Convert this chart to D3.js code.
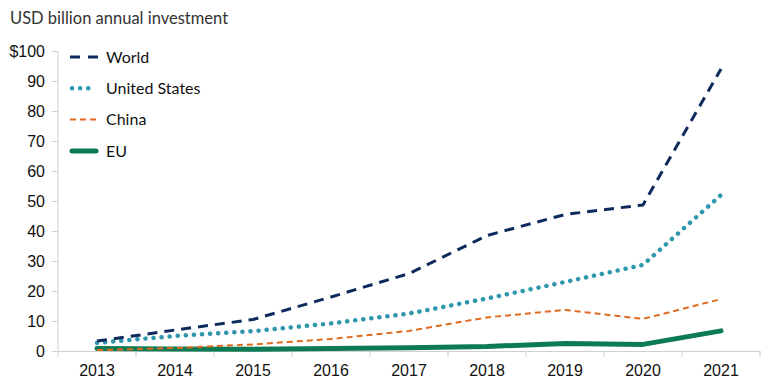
<!DOCTYPE html>
<html>
<head>
<meta charset="utf-8">
<script src="https://cdn.jsdelivr.net/npm/d3@7"></script>
<style>
  body { margin: 0; background: #fff; }
  svg { font-family: Lato, "Open Sans", sans-serif; }
</style>
</head>
<body>
<script>
var w = 770;
var h = 391;

// years and annual investment, USD billion
var years = ["2013", "2014", "2015", "2016", "2017", "2018", "2019", "2020", "2021"];
var world = [3.3, 7, 10.5, 18, 25.8, 38.5, 45.5, 48.7, 94];
var unitedStates = [2.7, 5, 6.6, 9.2, 12.5, 17.5, 23, 28.7, 52];
var china = [0.3, 1, 2.2, 4, 6.7, 11.2, 13.7, 10.7, 17.3];
var eu = [0.8, 0.7, 0.6, 0.8, 1.1, 1.5, 2.5, 2.2, 6.7];
var yTicks = [0, 10, 20, 30, 40, 50, 60, 70, 80, 90, 100];

var series = [
  { name: "World", values: world, color: "#0c2a5c", width: 3, dash: "10,7", cap: "butt" },
  { name: "United States", values: unitedStates, color: "#2e97ad", width: 4.5, dash: "0.1,8", cap: "round" },
  { name: "China", values: china, color: "#df6c1e", width: 2, dash: "6,4", cap: "butt" },
  { name: "EU", values: eu, color: "#0b7a55", width: 5, dash: null, cap: "round" }
];

var margin = { left: 58, right: 10, top: 51, bottom: 40 };

var svg = d3.select("body")
  .append("svg")
  .attr("width", w)
  .attr("height", h);

var x = d3.scaleBand()
  .domain(years)
  .range([margin.left, 760]);

var y = d3.scaleLinear()
  .domain([0, 100])
  .range([351, 51]);

svg.append("text")
  .attr("x", 10)
  .attr("y", 24)
  .attr("fill", "#333")
  .style("font-size", "16.5px")
  .text("USD billion annual investment");

// y axis
var yAxis = svg.append("g")
  .attr("transform", "translate(" + margin.left + ",0)")
  .call(d3.axisLeft(y).tickValues(yTicks).tickSize(6).tickPadding(7)
    .tickFormat(function(d) { return d == 100 ? "$100" : d; }));

// x axis
var xAxis = svg.append("g")
  .attr("transform", "translate(0,351)")
  .call(d3.axisBottom(x).tickSize(0).tickPadding(14));

// band boundary ticks below the x axis
xAxis.selectAll(".bound")
  .data(years.concat(["end"]))
  .enter()
  .append("line")
  .attr("class", "bound")
  .attr("x1", function(d, i) { return margin.left + i * x.step(); })
  .attr("x2", function(d, i) { return margin.left + i * x.step(); })
  .attr("y1", 0)
  .attr("y2", 6)
  .attr("stroke", "#d0d0d0");

[yAxis, xAxis].forEach(function(a) {
  a.select(".domain").attr("stroke", "#d0d0d0");
  a.selectAll(".tick line").attr("stroke", "#d0d0d0");
  a.selectAll("text").attr("fill", "#111").style("font-size", "16px");
});
yAxis.select(".domain").attr("d", "M0,351V51");

var line = d3.line()
  .x(function(d, i) { return x(years[i]) + x.bandwidth() / 2; })
  .y(function(d) { return y(d); });

svg.append("g")
  .selectAll("path")
  .data(series.slice().reverse())
  .enter()
  .append("path")
  .attr("d", function(d) { return line(d.values); })
  .attr("fill", "none")
  .attr("stroke", function(d) { return d.color; })
  .attr("stroke-width", function(d) { return d.width; })
  .attr("stroke-dasharray", function(d) { return d.dash; })
  .attr("stroke-linecap", function(d) { return d.cap; })
  .attr("stroke-linejoin", "round");

// legend
var legend = svg.append("g")
  .selectAll("g")
  .data(series)
  .enter()
  .append("g")
  .attr("transform", function(d, i) { return "translate(70," + (57 + i * 31.3) + ")"; });

legend.append("line")
  .attr("x1", function(d) { return d.cap == "round" ? 2 : 0; })
  .attr("x2", function(d) { return d.cap == "round" ? 26 : 28; })
  .attr("stroke", function(d) { return d.color; })
  .attr("stroke-width", function(d) { return d.width; })
  .attr("stroke-dasharray", function(d) { return d.name == "World" ? "10,8" : d.name == "China" ? "6,4" : d.dash; })
  .attr("stroke-linecap", function(d) { return d.cap; });

legend.append("text")
  .attr("x", 36)
  .attr("dy", "0.36em")
  .attr("fill", "#111")
  .style("font-size", "16px")
  .text(function(d) { return d.name; });
</script>
</body>
</html>
